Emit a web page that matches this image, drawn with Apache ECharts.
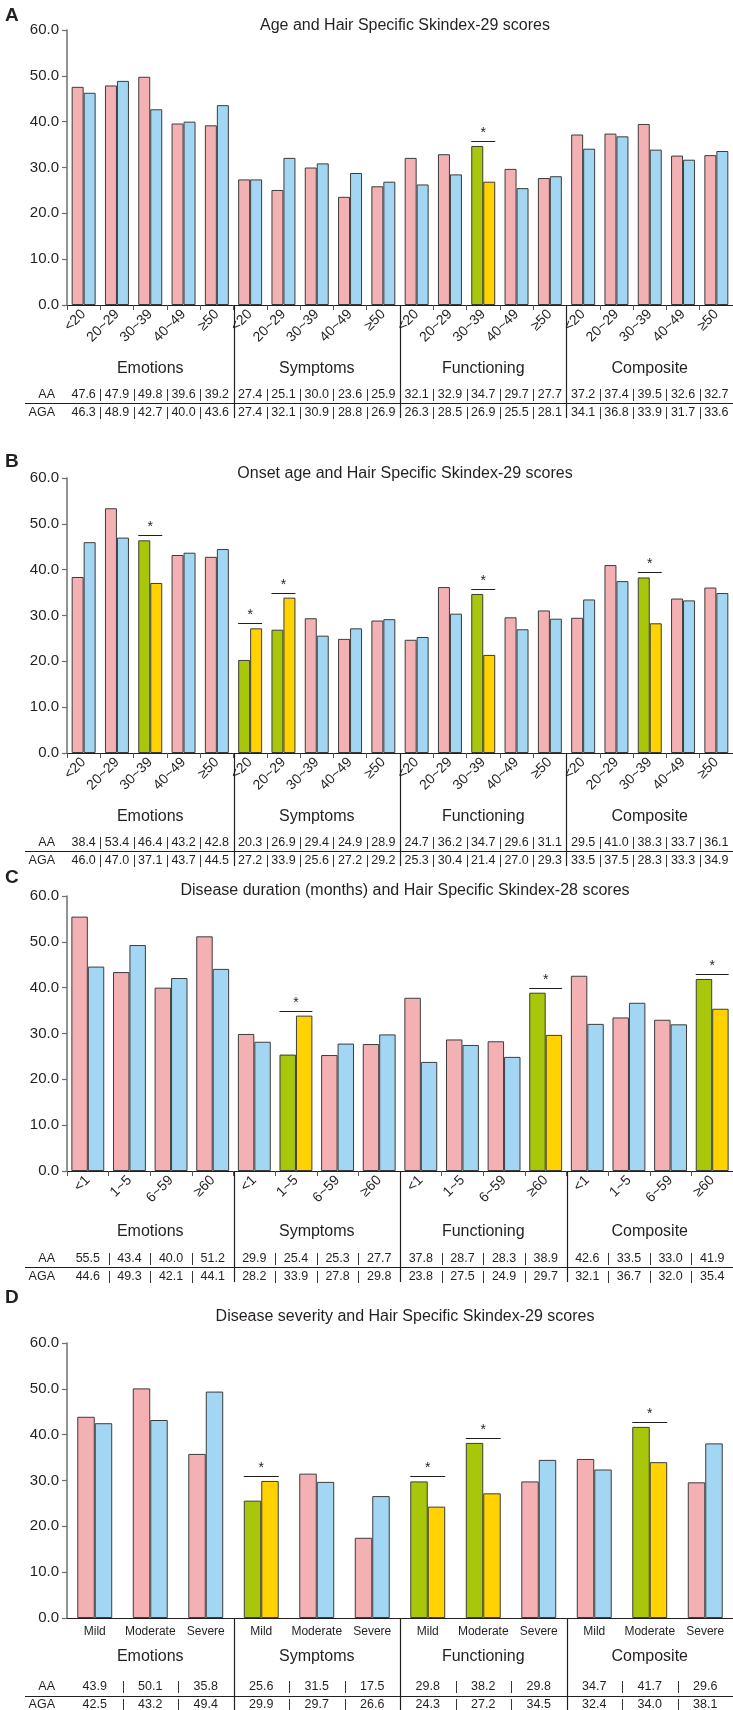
<!DOCTYPE html>
<html><head><meta charset="utf-8">
<script src="https://cdn.jsdelivr.net/npm/echarts@6/dist/echarts.min.js"></script>
<style>html,body{margin:0;padding:0;background:#fff}#c{width:733px;height:1710px}</style>
</head><body><div id="c"></div>
<script>
// ---------- data ----------
const groups = ['Emotions', 'Symptoms', 'Functioning', 'Composite'];
const ageCats = ['<20', '20~29', '30~39', '40~49', '≥50'];
const durCats = ['<1', '1~5', '6~59', '≥60'];
const sevCats = ['Mild', 'Moderate', 'Severe'];
const rowLabels = ['AA', 'AGA'];

const titleA = 'Age and Hair Specific Skindex-29 scores';
const aaA  = [47.6, 47.9, 49.8, 39.6, 39.2, 27.4, 25.1, 30.0, 23.6, 25.9, 32.1, 32.9, 34.7, 29.7, 27.7, 37.2, 37.4, 39.5, 32.6, 32.7];
const agaA = [46.3, 48.9, 42.7, 40.0, 43.6, 27.4, 32.1, 30.9, 28.8, 26.9, 26.3, 28.5, 26.9, 25.5, 28.1, 34.1, 36.8, 33.9, 31.7, 33.6];
const sigA = [12];

const titleB = 'Onset age and Hair Specific Skindex-29 scores';
const aaB  = [38.4, 53.4, 46.4, 43.2, 42.8, 20.3, 26.9, 29.4, 24.9, 28.9, 24.7, 36.2, 34.7, 29.6, 31.1, 29.5, 41.0, 38.3, 33.7, 36.1];
const agaB = [46.0, 47.0, 37.1, 43.7, 44.5, 27.2, 33.9, 25.6, 27.2, 29.2, 25.3, 30.4, 21.4, 27.0, 29.3, 33.5, 37.5, 28.3, 33.3, 34.9];
const sigB = [2, 5, 6, 12, 17];

const titleC = 'Disease duration (months) and Hair Specific Skindex-28 scores';
const aaC  = [55.5, 43.4, 40.0, 51.2, 29.9, 25.4, 25.3, 27.7, 37.8, 28.7, 28.3, 38.9, 42.6, 33.5, 33.0, 41.9];
const agaC = [44.6, 49.3, 42.1, 44.1, 28.2, 33.9, 27.8, 29.8, 23.8, 27.5, 24.9, 29.7, 32.1, 36.7, 32.0, 35.4];
const sigC = [5, 11, 15];

const titleD = 'Disease severity and Hair Specific Skindex-29 scores';
const aaD  = [43.9, 50.1, 35.8, 25.6, 31.5, 17.5, 29.8, 38.2, 29.8, 34.7, 41.7, 29.6];
const agaD = [42.5, 43.2, 49.4, 29.9, 29.7, 26.6, 24.3, 27.2, 34.5, 32.4, 34.0, 38.1];
const sigD = [3, 6, 7, 10];

const yTicks = [0, 10, 20, 30, 40, 50, 60];

// ---------- styling / layout ----------
const FONT = '"Liberation Sans", Arial, sans-serif';
const INK = '#231f20';
const PINK = '#f4b1b4', BLUE = '#a2d6f3', GREEN = '#a8c70a', YELLOW = '#ffd200';
const GL = 67, GW = 666, GH = 275;

const panels = [
  {letter: 'A', title: titleA, sub: ageCats, aa: aaA, aga: agaA, sig: sigA, top: 30, letterY: 1, titleY: 13,
   rotate: 45, labFont: 14, labMargin: 7, gap: 0.28, ticks: true, L: {grp: 65, aa: 90, line: 98, aga: 108, sep: 113}},
  {letter: 'B', title: titleB, sub: ageCats, aa: aaB, aga: agaB, sig: sigB, top: 478, letterY: 447, titleY: 461,
   rotate: 45, labFont: 14, labMargin: 7, gap: 0.28, ticks: true, L: {grp: 65, aa: 90, line: 98, aga: 108, sep: 113}},
  {letter: 'C', title: titleC, sub: durCats, aa: aaC, aga: agaC, sig: sigC, top: 896, letterY: 863, titleY: 878,
   rotate: 45, labFont: 14, labMargin: 7, gap: 0.21, ticks: true, L: {grp: 62, aa: 88, line: 96, aga: 106, sep: 111}},
  {letter: 'D', title: titleD, sub: sevCats, aa: aaD, aga: agaD, sig: sigD, top: 1343, letterY: 1283, titleY: 1304,
   rotate: 0, labFont: 12, labMargin: 8, gap: 0.37, ticks: false, L: {grp: 40, aa: 69, line: 78, aga: 87, sep: 92}}
];

function makeRender(P) {
  return function (params, api) {
    const i = api.value(0), aa = api.value(1), aga = api.value(2), s = api.value(3);
    const n = P.aa.length, per = P.sub.length;
    const b = api.coord([i, 0]);
    const cx = b[0], y0 = b[1];
    const cw = api.size([1, 0])[0];
    const L = P.L;
    const ch = [];
    const txt = (t, x, y, size, align) => ({type: 'text', style: {text: t, x: x, y: y, align: align || 'center',
      verticalAlign: 'middle', fontSize: size || 12, fontFamily: FONT, fill: INK}});
    const ln = (x1, y1, x2, y2, w) => ({type: 'line', shape: {x1: x1, y1: y1, x2: x2, y2: y2},
      style: {stroke: INK, lineWidth: w || 1}});
    ch.push(txt(aa.toFixed(1), cx, y0 + L.aa, 12.5));
    ch.push(txt(aga.toFixed(1), cx, y0 + L.aga, 12.5));
    if (i < n - 1) {
      const rx = Math.round(cx + cw / 2) + 0.5;
      if ((i + 1) % per === 0) {
        ch.push(ln(rx, y0, rx, y0 + L.sep, 1.2));
      } else {
        ch.push(ln(rx, y0 + L.aa - 6, rx, y0 + L.aa + 6, 0.9));
        ch.push(ln(rx, y0 + L.aga - 6, rx, y0 + L.aga + 6, 0.9));
      }
    }
    if (i === 0) {
      const hx = cx - cw / 2 - 12;
      ch.push(txt(rowLabels[0], hx, y0 + L.aa, 12.5, 'right'));
      ch.push(txt(rowLabels[1], hx, y0 + L.aga, 12.5, 'right'));
      ch.push(ln(25, Math.round(y0 + L.line) + 0.5, 733, Math.round(y0 + L.line) + 0.5, 1));
    }
    if (s) {
      const top = Math.round(api.coord([i, Math.max(aa, aga)])[1] - 5) + 0.5;
      const hw = cw * (1 - P.gap) / 2;
      ch.push(ln(cx - hw, top, cx + hw, top, 1));
      ch.push(txt('*', cx, top - 8, 14));
    }
    return {type: 'group', children: ch};
  };
}

const option = {
  animation: false,
  backgroundColor: '#fff',
  title: [], grid: [], xAxis: [], yAxis: [], series: []
};

panels.forEach((P, p) => {
  const cats = [];
  groups.forEach(() => P.sub.forEach(c => cats.push(c)));
  option.title.push({text: P.letter, left: 0, top: P.letterY,
    textStyle: {fontSize: 19, fontWeight: 'bold', fontFamily: FONT, color: INK}});
  option.title.push({text: P.title, left: GL + GW / 2, top: P.titleY, textAlign: 'center',
    textStyle: {fontSize: 16, fontWeight: 'normal', fontFamily: FONT, color: INK}});
  option.grid.push({left: GL, top: P.top, width: GW, height: GH, containLabel: false});
  option.yAxis.push({gridIndex: p, type: 'value', min: yTicks[0], max: yTicks[yTicks.length - 1], interval: 10,
    axisLine: {show: true, lineStyle: {color: '#6f6f6f', width: 1.5}},
    axisTick: {show: true, length: 5, lineStyle: {color: '#6f6f6f', width: 1.2}},
    splitLine: {show: false},
    axisLabel: {formatter: v => v.toFixed(1), fontSize: 15, color: INK, margin: 8, fontFamily: FONT}});
  option.xAxis.push({gridIndex: p, type: 'category', data: cats, position: 'bottom',
    axisLine: {show: true, lineStyle: {color: INK, width: 1.2}},
    axisTick: {show: P.ticks, length: 5, interval: 0, lineStyle: {color: '#555'}},
    axisLabel: {interval: 0, rotate: P.rotate, fontSize: P.labFont, margin: P.labMargin, color: INK, fontFamily: FONT}});
  option.xAxis.push({gridIndex: p, type: 'category', data: groups, position: 'bottom', offset: P.L.grp - 9,
    axisLine: {show: false}, axisTick: {show: false},
    axisLabel: {interval: 0, fontSize: 16, margin: 0, color: INK, fontFamily: FONT}});
  const gapPct = Math.round(P.gap * 100) + '%';
  option.series.push({type: 'bar', xAxisIndex: 2 * p, yAxisIndex: p, barGap: '0%', barCategoryGap: gapPct,
    itemStyle: {borderColor: '#3c3c3c', borderWidth: 1},
    data: P.aa.map((v, i) => ({value: v, itemStyle: {color: P.sig.includes(i) ? GREEN : PINK}}))});
  option.series.push({type: 'bar', xAxisIndex: 2 * p, yAxisIndex: p, barGap: '0%', barCategoryGap: gapPct,
    itemStyle: {borderColor: '#3c3c3c', borderWidth: 1},
    data: P.aga.map((v, i) => ({value: v, itemStyle: {color: P.sig.includes(i) ? YELLOW : BLUE}}))});
  option.series.push({type: 'custom', xAxisIndex: 2 * p, yAxisIndex: p, clip: false, silent: true, z: 5,
    encode: {x: 0, y: 1},
    data: P.aa.map((v, i) => [i, v, P.aga[i], P.sig.includes(i) ? 1 : 0]),
    renderItem: makeRender(P)});
});

const chart = echarts.init(document.getElementById('c'), null, {renderer: 'canvas'});
chart.setOption(option);
</script>
</body></html>
